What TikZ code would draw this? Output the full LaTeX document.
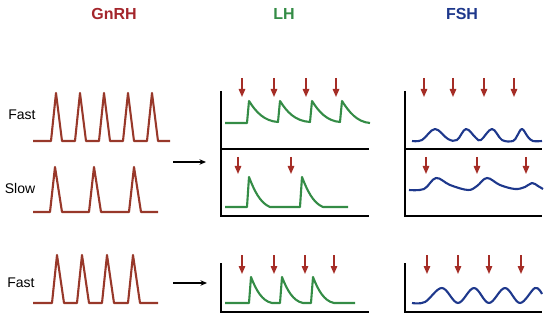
\documentclass[tikz,border=0pt]{standalone}
\usepackage{fontspec}
\setmainfont{Liberation Sans}
\usetikzlibrary{arrows.meta}
\definecolor{gnrhT}{RGB}{164,38,44}
\definecolor{gnrhC}{RGB}{152,56,42}
\definecolor{lhC}{RGB}{52,140,70}
\definecolor{fshC}{RGB}{30,56,140}
\definecolor{harrC}{RGB}{165,45,38}
\tikzset{
  title/.style={font=\fontsize{16}{18}\selectfont\bfseries, inner sep=0pt},
  lab/.style={font=\fontsize{14}{16}\selectfont, inner sep=0pt},
  pulse/.style={draw=gnrhC, line width=2.1pt, line join=round},
  lhcurve/.style={draw=lhC, line width=2.1pt, line join=round},
  fshcurve/.style={draw=fshC, line width=2.1pt, line join=round},
  axis/.style={draw=black, line width=1.3pt},
  harr/.style={draw=harrC, line width=1.4pt, -{Triangle[length=8pt,width=6.5pt]}},
  barr/.style={draw=black, line width=1.1pt, -{Stealth[length=6.5pt,width=5.5pt]}}
}
\begin{document}
\begin{tikzpicture}[x=1pt,y=-1pt]
\useasboundingbox (0,0) rectangle (550,321);

% titles
\node[title, text=gnrhT] (tG) at (114,14) {GnRH};
\node[title, text=lhC] (tL) at (284,14) {LH};
\node[title, text=fshC] (tF) at (462,14) {FSH};

% row labels
\node[lab] (l1) at (22,115) {Fast};
\node[lab] (l2) at (20,188) {Slow};
\node[lab] (l3) at (21,283) {Fast};

% GnRH pulses
\draw[pulse] (33,141) \foreach \p in {56,80,104,128,152} { -- (\p-5,141) -- (\p,93) -- (\p+6,141) } -- (170,141);
\draw[pulse] (33,212) \foreach \p in {55,94,134} { -- (\p-5,212) -- (\p,167) -- (\p+7,212) } -- (158,212);
\draw[pulse] (33,303) \foreach \p in {57,82,107,133} { -- (\p-5,303) -- (\p,255) -- (\p+7,303) } -- (158,303);

% black arrows
\coordinate (a1s) at (173,162); \coordinate (a1e) at (206,162);
\coordinate (a2s) at (173,283); \coordinate (a2e) at (207,283);
\draw[barr] (a1s) -- (a1e);
\draw[barr] (a2s) -- (a2e);

% LH axes
\draw[axis] (221,91) -- (221,216) -- (369,216);
\draw[axis] (221,149) -- (369,149);
\draw[axis] (221,263) -- (221,312) -- (369,312);
% FSH axes
\draw[axis] (405,91) -- (405,216) -- (542,216);
\draw[axis] (405,149) -- (542,149);
\draw[axis] (405,263) -- (405,312) -- (542,312);

% red arrows
\foreach \x in {242,274,306,336} \draw[harr] (\x,78) -- (\x,97);
\foreach \x in {238,291} \draw[harr] (\x,157) -- (\x,174);
\foreach \x in {242,274,305,334} \draw[harr] (\x,255) -- (\x,274);
\foreach \x in {424,453,484,514} \draw[harr] (\x,78) -- (\x,97);
\foreach \x in {426,477,526} \draw[harr] (\x,157) -- (\x,174);
\foreach \x in {427,458,489,521} \draw[harr] (\x,255) -- (\x,274);

% LH curves
\draw[lhcurve] (225,123) -- (247,123) -- (249,101)
  .. controls (256,112) and (264,121) .. (278,122) -- (280,101)
  .. controls (287,112) and (295,121) .. (310,122) -- (312,101)
  .. controls (319,112) and (327,121) .. (340,122) -- (342,101)
  .. controls (349,112) and (357,122) .. (370,123);
\draw[lhcurve] (225,207) -- (247,207) -- (249,177)
  .. controls (254,190) and (260,203) .. (270,207) -- (300,207) -- (302,177)
  .. controls (307,190) and (313,203) .. (323,207) -- (348,207);
\draw[lhcurve] (225,303) -- (249,303) -- (251,277)
  .. controls (256,290) and (262,301) .. (272,303) -- (280,303) -- (282,277)
  .. controls (287,290) and (293,301) .. (303,303) -- (311,303) -- (313,277)
  .. controls (318,290) and (324,301) .. (334,303) -- (355,303);

% FSH curves
\draw[fshcurve] plot[smooth, tension=0.6] coordinates {(412,141) (422,140) (435,129) (448,139) (457,140) (466,129) (476,138) (481,140) (492,129) (502,140) (513,141) (517,136) (522,129) (528,137) (533,141) (542,141)};
\draw[fshcurve] plot[smooth, tension=0.6] coordinates {(409,190) (424,189) (436,178) (450,185) (468,190) (477,186) (487,178) (500,185) (515,189) (525,187) (532,183) (538,186) (543,189)};
\draw[fshcurve] plot[smooth, tension=0.6] coordinates {(412,303) (425,302) (442,288) (458,303) (474,288) (489,303) (505,288) (520,303) (535,288) (542,294)};
\end{tikzpicture}
\end{document}
